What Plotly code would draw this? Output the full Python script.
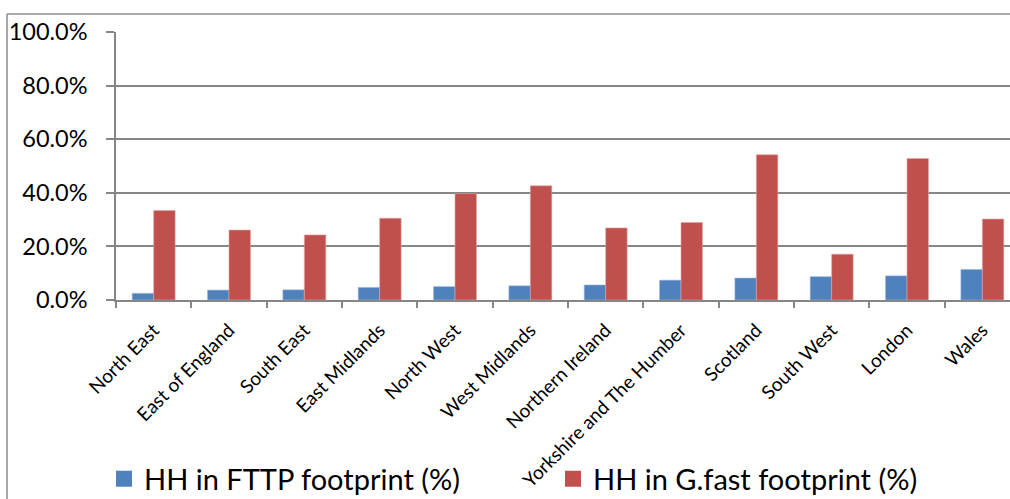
import plotly.graph_objects as go

regions = ["North East", "East of England", "South East", "East Midlands", "North West",
           "West Midlands", "Northern Ireland", "Yorkshire and The Humber", "Scotland",
           "South West", "London", "Wales"]
fttp = [2.5, 3.7, 3.8, 4.7, 5.0, 5.3, 5.6, 7.4, 8.2, 8.7, 9.0, 11.4]
gfast = [33.4, 26.1, 24.3, 30.5, 39.7, 42.6, 26.9, 28.9, 54.2, 17.1, 52.8, 30.2]
series_names = ["HH in FTTP footprint (%)", "HH in G.fast footprint (%)"]
series_colors = ["#4F81BD", "#C0504D"]
edge_colors = ["#9DB9DE", "#E3A4A2"]
y_ticks = [0, 20, 40, 60, 80, 100]
y_tick_labels = ["0.0%", "20.0%", "40.0%", "60.0%", "80.0%", "100.0%"]

FONT = "Lato"
GRID = "#868686"

fig = go.Figure()
for vals, name, col, edge in zip([fttp, gfast], series_names, series_colors, edge_colors):
    fig.add_trace(go.Bar(x=regions, y=vals, name=name, showlegend=False, legendgroup=name,
                         marker=dict(color=col, line=dict(color=edge, width=0.6))))
# legend entries with larger square keys
for name, col in zip(series_names, series_colors):
    fig.add_trace(go.Scatter(x=[None], y=[None], mode="markers", name=name, legendgroup=name,
                             marker=dict(symbol="square", size=16, color=col)))

W, H = 1010, 499
L, T = 116, 32
ph = 268
B = H - T - ph
pw = W - L
bottom = T + ph  # y of the 0% line

fig.update_layout(
    width=W, height=H,
    margin=dict(l=L, r=0, t=T, b=B, pad=0, autoexpand=False),
    paper_bgcolor="white", plot_bgcolor="white",
    barmode="group", bargap=0.43, bargroupgap=0,
    font=dict(family=FONT, color="black"),
    showlegend=True,
    legend=dict(orientation="h", x=(104 - L) / pw, xanchor="left",
                y=(bottom - 479) / ph, yanchor="middle", itemsizing="trace",
                font=dict(size=29, family=FONT), entrywidth=404, entrywidthmode="pixels",
                bgcolor="rgba(0,0,0,0)"),
    xaxis=dict(type="category", range=[-0.5, 11.5 - 10 / 75.3], tickangle=-45,
               tickfont=dict(size=19, family=FONT), showgrid=False,
               showline=True, linecolor=GRID, linewidth=1.5,
               ticks="outside", ticklen=6, tickcolor=GRID, tickwidth=1.5,
               ticklabelstandoff=10,
               tickson="boundaries", fixedrange=True, automargin=False),
    yaxis=dict(range=[0, 100], tickvals=y_ticks, ticktext=y_tick_labels,
               tickfont=dict(size=23.5, family=FONT), showgrid=True, gridcolor=GRID, gridwidth=1.5,
               showline=True, linecolor=GRID, linewidth=1.5,
               ticks="outside", ticklen=8, tickcolor=GRID, tickwidth=1.5,
               ticklabelstandoff=14, zeroline=False, fixedrange=True, automargin=False),
)

# outer chart border (left and top)
x_left = (7 - L) / pw
y_top = (bottom - 14) / ph
y_bot = (bottom - 520) / ph
fig.add_shape(type="line", xref="paper", yref="paper", x0=x_left, x1=x_left, y0=y_bot, y1=y_top,
              line=dict(color="#8C8C8C", width=1.5))
fig.add_shape(type="line", xref="paper", yref="paper", x0=x_left, x1=1.0, y0=y_top, y1=y_top,
              line=dict(color="#8C8C8C", width=1.5))

fig.write_html("out.html", config={"displayModeBar": False},
               post_script="document.body.style.margin='0';document.body.style.overflow='hidden';")
